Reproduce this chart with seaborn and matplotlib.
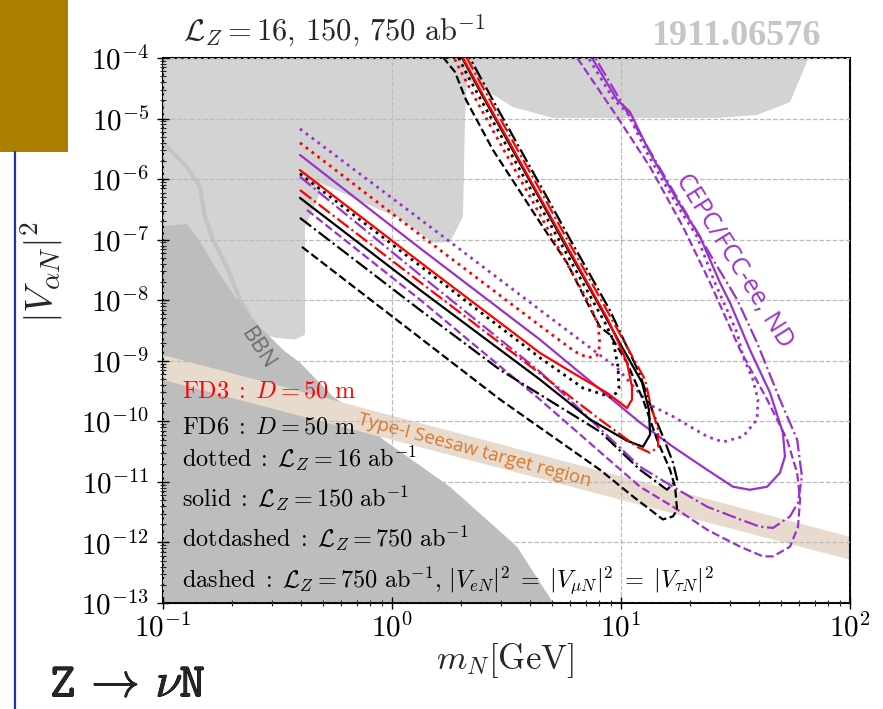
import numpy as np
import pandas as pd
import matplotlib
matplotlib.use("Agg")
import matplotlib.pyplot as plt
import matplotlib.patheffects as pe
import seaborn as sns
from matplotlib.patches import Rectangle
from matplotlib.lines import Line2D
from matplotlib.ticker import LogLocator, NullFormatter

sns.set_theme(style="white")
plt.rcParams["font.family"] = ["DejaVu Sans"]
plt.rcParams["mathtext.fontset"] = "cm"

# ---- sensitivity contours: log10(m_N / GeV) and log10(|V_aN|^2) ----
# FD3 (red) and FD6 (black) far detectors, D = 50 m
red_dot_x = [-0.402, 0.122, 0.646, 0.799, 0.856, 0.895, 0.908, 0.900, 0.865, 0.777, 0.690, 0.603, 0.515, 0.428, 0.341, 0.288, 0.265]
red_dot_y = [-5.40, -6.92, -8.42, -8.85, -8.95, -8.91, -8.74, -8.41, -8.08, -7.48, -6.89, -6.29, -5.70, -5.11, -4.51, -4.13, -3.95]

red_solid_x = [-0.402, 0.122, 0.646, 0.790, 0.939, 1.026, 1.048, 1.048, 1.026, 0.983, 0.943, 0.856, 0.769, 0.681, 0.594, 0.507, 0.419, 0.319, 0.305]
red_solid_y = [-5.85, -7.37, -8.87, -9.20, -9.53, -9.78, -9.64, -9.43, -9.03, -8.65, -8.32, -7.73, -7.14, -6.54, -5.95, -5.35, -4.76, -4.07, -3.95]

red_dashdot_x = [-0.402, 0.122, 0.646, 0.908, 1.070, 1.127, 1.162, 1.162, 1.127, 1.105, 1.026, 0.939, 0.852, 0.764, 0.677, 0.590, 0.502, 0.415, 0.320]
red_dashdot_y = [-6.18, -7.70, -9.21, -9.97, -10.42, -10.52, -10.42, -10.14, -9.69, -9.31, -8.77, -8.17, -7.58, -6.99, -6.39, -5.80, -5.20, -4.61, -3.95]

black_dot_x = [-0.402, 0.122, 0.646, 0.834, 0.965, 0.991, 0.987, 0.965, 0.930, 0.843, 0.755, 0.668, 0.581, 0.493, 0.406, 0.319, 0.285]
black_dot_y = [-5.91, -7.43, -8.95, -9.45, -9.61, -9.45, -9.10, -8.65, -8.37, -7.78, -7.18, -6.59, -6.00, -5.40, -4.81, -4.21, -3.95]

black_solid_x = [-0.402, 0.122, 0.646, 0.865, 1.026, 1.096, 1.127, 1.122, 1.092, 1.004, 0.917, 0.830, 0.742, 0.655, 0.568, 0.480, 0.393, 0.300]
black_solid_y = [-6.31, -7.83, -9.31, -9.97, -10.32, -10.42, -10.22, -9.81, -9.36, -8.77, -8.17, -7.58, -6.99, -6.39, -5.80, -5.20, -4.61, -3.95]

black_dashdot_x = [-0.402, 0.122, 0.472, 0.908, 1.083, 1.201, 1.245, 1.227, 1.183, 1.140, 1.083, 1.026, 0.952, 0.865, 0.777, 0.690, 0.603, 0.515, 0.428, 0.333]
black_dashdot_y = [-6.64, -8.16, -9.15, -10.17, -10.80, -11.13, -10.96, -10.68, -10.25, -9.86, -9.23, -8.77, -8.17, -7.58, -6.99, -6.39, -5.80, -5.20, -4.61, -3.95]

black_dashed_x = [-0.393, 0.122, 0.472, 0.908, 1.052, 1.183, 1.227, 1.245, 1.236, 1.214, 1.157, 1.096, 1.026, 0.952, 0.908, 0.852, 0.764, 0.659, 0.546, 0.441, 0.323, 0.275, 0.215]
black_dashed_y = [-7.12, -8.62, -9.64, -10.80, -11.24, -11.62, -11.57, -11.46, -11.08, -10.80, -10.30, -9.64, -9.03, -8.57, -8.44, -8.04, -7.38, -6.79, -6.13, -5.52, -4.69, -4.23, -3.95]

# CEPC/FCC-ee near detector (purple)
purple_dot_x = [-0.402, 0.122, 0.646, 0.983, 1.127, 1.227, 1.376, 1.445, 1.533, 1.594, 1.598, 1.576, 1.533, 1.507, 1.463, 1.410, 1.332, 1.258, 1.188, 1.114, 1.026, 0.969, 0.850]
purple_dot_y = [-5.17, -6.66, -8.16, -9.12, -9.73, -9.92, -10.25, -10.34, -10.25, -9.97, -9.64, -9.31, -8.93, -8.54, -8.16, -7.71, -6.95, -6.51, -6.06, -5.57, -4.89, -4.69, -3.95]

purple_solid_x = [-0.402, 0.122, 0.646, 1.083, 1.227, 1.376, 1.489, 1.563, 1.638, 1.694, 1.716, 1.707, 1.651, 1.563, 1.476, 1.432, 1.345, 1.271, 1.201, 1.127, 1.039, 0.983, 0.865]
purple_solid_y = [-5.60, -7.14, -8.65, -10.02, -10.42, -10.80, -11.08, -11.13, -11.08, -10.85, -10.58, -10.19, -9.53, -8.82, -8.04, -7.71, -6.95, -6.51, -6.06, -5.57, -4.89, -4.69, -3.95]

purple_dashdot_x = [-0.402, 0.122, 0.646, 1.083, 1.227, 1.376, 1.520, 1.607, 1.664, 1.738, 1.773, 1.790, 1.769, 1.694, 1.594, 1.507, 1.463, 1.410, 1.301, 1.148, 0.996, 0.880]
purple_dashdot_y = [-5.96, -7.58, -9.18, -10.75, -11.08, -11.41, -11.62, -11.74, -11.76, -11.57, -11.34, -10.91, -10.30, -9.64, -8.70, -7.99, -7.71, -7.38, -6.67, -5.68, -4.69, -3.95]

purple_dashed_x = [-0.371, 0.122, 0.646, 1.083, 1.227, 1.376, 1.520, 1.620, 1.664, 1.738, 1.773, 1.782, 1.769, 1.725, 1.638, 1.520, 1.389, 1.271, 1.127, 0.983, 0.800]
purple_dashed_y = [-6.51, -7.99, -9.64, -11.08, -11.41, -11.79, -12.07, -12.23, -12.23, -12.07, -11.74, -11.29, -10.85, -10.30, -9.64, -8.82, -7.71, -6.79, -5.80, -4.97, -3.95]

# ---- excluded regions ----
excluded_x = [-1.05, 1.830, 1.738, 1.594, 1.419, 0.703, 0.528, 0.397, 0.328, 0.319, 0.310, 0.253, 0.179, 0.022, -0.022,
              -0.314, -0.314, -0.380, -0.380, -0.424, -0.511, -0.620, -1.05]
excluded_y = [-3.9, -3.9, -4.73, -4.94, -4.99, -4.99, -4.81, -4.50, -4.36, -4.97, -6.62, -7.04, -7.05, -6.62, -6.56,
              -6.06, -6.23, -6.79, -8.57, -8.65, -8.62, -8.49, -8.49]

bbn_x = [-1.05, -1.05, -0.895, -0.852, -0.764, -0.677, -0.576, -0.476, -0.402, -0.258, -0.153, -0.039, 0.253, 0.546, 0.721]
bbn_y = [-13.1, -6.79, -6.74, -6.95, -7.50, -7.99, -8.44, -8.82, -9.03, -9.59, -9.86, -10.30, -11.08, -12.07, -13.1]

bbn_line_x = [-1.0, -0.895, -0.838, -0.817, -0.782, -0.721, -0.664, -0.620]
bbn_line_y = [-5.40, -5.80, -6.13, -6.62, -7.00, -7.45, -7.99, -8.27]

# Type-I seesaw band
seesaw_x = [-1.0, 2.0]
seesaw_hi = [-8.90, -11.90]
seesaw_lo = [-9.31, -12.28]

# axis ticks
x_tick_exp = [-1, 0, 1, 2]
y_tick_exp = [-13, -12, -11, -10, -9, -8, -7, -6, -5, -4]

PURPLE = "#9932CC"

W, H = 883, 709
fig = plt.figure(figsize=(W / 100, H / 100), dpi=100)
ax = fig.add_axes([163 / W, 1 - 603 / H, 687 / W, 545 / H])


def pw(a):
    return np.power(10.0, np.asarray(a, dtype=float))


ax.fill(pw(excluded_x), pw(excluded_y), color="#d3d3d3", lw=0, zorder=1)
ax.plot(pw(bbn_line_x), pw(bbn_line_y), color="#c4c4c4", lw=3, zorder=1.1, solid_capstyle="butt")
ax.fill(pw(bbn_x), pw(bbn_y), color="#bdbdbd", lw=0, zorder=1.2)
ax.fill_between(pw(seesaw_x), pw(seesaw_lo), pw(seesaw_hi), color="#e8dbcd", lw=0, zorder=1.5)

curves = [
    (purple_dot_x, purple_dot_y, PURPLE, ":"),
    (purple_solid_x, purple_solid_y, PURPLE, "-"),
    (purple_dashdot_x, purple_dashdot_y, PURPLE, "-."),
    (purple_dashed_x, purple_dashed_y, PURPLE, "--"),
    (black_dot_x, black_dot_y, "black", ":"),
    (black_solid_x, black_solid_y, "black", "-"),
    (black_dashdot_x, black_dashdot_y, "black", "-."),
    (black_dashed_x, black_dashed_y, "black", "--"),
    (red_dot_x, red_dot_y, "red", ":"),
    (red_solid_x, red_solid_y, "red", "-"),
    (red_dashdot_x, red_dashdot_y, "red", "-."),
]
for cx, cy, col, ls in curves:
    df = pd.DataFrame({"m": pw(cx), "v": pw(cy)})
    lw = 2.0 if ls == ":" else 1.6
    sns.lineplot(data=df, x="m", y="v", sort=False, estimator=None, color=col,
                 linestyle=ls, lw=lw, ax=ax, zorder=3)

ax.set_xscale("log")
ax.set_yscale("log")
ax.set_xlim(1e-1, 1e2)
ax.set_ylim(1e-13, 1e-4)
ax.set_xticks(pw(x_tick_exp))
ax.set_xticklabels([r"$10^{%d}$" % k for k in x_tick_exp])
ax.set_yticks(pw(y_tick_exp))
ax.set_yticklabels([r"$10^{%d}$" % k for k in y_tick_exp])
ax.xaxis.set_minor_locator(LogLocator(base=10, subs=np.arange(2, 10), numticks=20))
ax.yaxis.set_minor_locator(LogLocator(base=10, subs=np.arange(2, 10), numticks=20))
ax.xaxis.set_minor_formatter(NullFormatter())
ax.yaxis.set_minor_formatter(NullFormatter())
ax.set_xlabel("")
ax.set_ylabel("")
ax.set_axisbelow(False)
ax.grid(True, which="major", ls="--", color="#bbbbbb", lw=0.9)
ax.tick_params(which="major", direction="inout", length=8, width=1.0, labelsize=21, colors="black",
               left=True, bottom=True)
ax.tick_params(axis="y", which="major", pad=6)
ax.tick_params(which="minor", direction="inout", length=5, width=0.8, left=True, bottom=True)
for s in ax.spines.values():
    s.set_color("black")
    s.set_linewidth(1.5)

# in-plot labels
ax.text(10 ** 1.495, 10 ** -7.35, "CEPC/FCC-ee, ND", color=PURPLE, rotation=-58, fontsize=18,
        family=["Open Sans", "DejaVu Sans"], ha="center", va="center", rotation_mode="anchor", zorder=4)
ax.text(10 ** 0.362, 10 ** -10.48, "Type-I Seesaw target region", color="#d8782f", rotation=-15,
        fontsize=13.5, family=["Open Sans", "DejaVu Sans"], ha="center", va="center",
        rotation_mode="anchor", zorder=4)
ax.text(10 ** -0.585, 10 ** -8.80, "BBN", color="#6e6e6e", rotation=-57, fontsize=16,
        family=["Open Sans", "DejaVu Sans"], ha="center", va="center", rotation_mode="anchor", zorder=4)

# figure-level annotations
fx = lambda px: px / W
fy = lambda py: 1 - py / H
fig.text(fx(183), fy(40), r"$\mathcal{L}_Z=16,\,150,\,750\ \mathrm{ab}^{-1}$", fontsize=22, va="baseline")
fig.text(fx(820), fy(45), "1911.06576", fontsize=26, fontweight="bold", color="#c6c6c6",
         family=["Liberation Serif", "DejaVu Serif"], ha="right", va="baseline")

notes = [
    (398, r"$\mathrm{FD3}\;:\;D=50\ \mathrm{m}$", "red"),
    (433, r"$\mathrm{FD6}\;:\;D=50\ \mathrm{m}$", "black"),
    (467, r"$\mathrm{dotted}\;:\;\mathcal{L}_Z=16\ \mathrm{ab}^{-1}$", "black"),
    (507, r"$\mathrm{solid}\;:\;\mathcal{L}_Z=150\ \mathrm{ab}^{-1}$", "black"),
    (547, r"$\mathrm{dotdashed}\;:\;\mathcal{L}_Z=750\ \mathrm{ab}^{-1}$", "black"),
    (588, r"$\mathrm{dashed}\;:\;\mathcal{L}_Z=750\ \mathrm{ab}^{-1},\,|V_{eN}|^2\;=\;|V_{\mu N}|^2\;=\;|V_{\tau N}|^2$", "black"),
]
for py, txt, col in notes:
    fig.text(fx(182), fy(py), txt, fontsize=17.5, color=col, va="baseline", zorder=5)

fig.text(fx(42), fy(272), r"$|V_{\alpha N}|^2$", fontsize=28, rotation=90, ha="center", va="center")
fig.text(fx(505), fy(660), r"$m_N[\mathrm{GeV}]$", fontsize=25, ha="center", va="center")

# slide decorations
fig.patches.append(Rectangle((0, fy(152)), 68 / W, 152 / H, transform=fig.transFigure,
                             color="#ab7d00", lw=0, zorder=0))
fig.lines.append(Line2D([fx(15), fx(15)], [0, fy(152)], transform=fig.transFigure,
                        color="#1f35a5", lw=1.6))
fig.text(fx(50), fy(697), r"$\mathtt{Z}\,\rightarrow\,\nu\mathtt{N}$", fontsize=35,
         va="baseline", ha="left",
         path_effects=[pe.withStroke(linewidth=0.6, foreground="black")])

fig.savefig("out.png", dpi=100)
